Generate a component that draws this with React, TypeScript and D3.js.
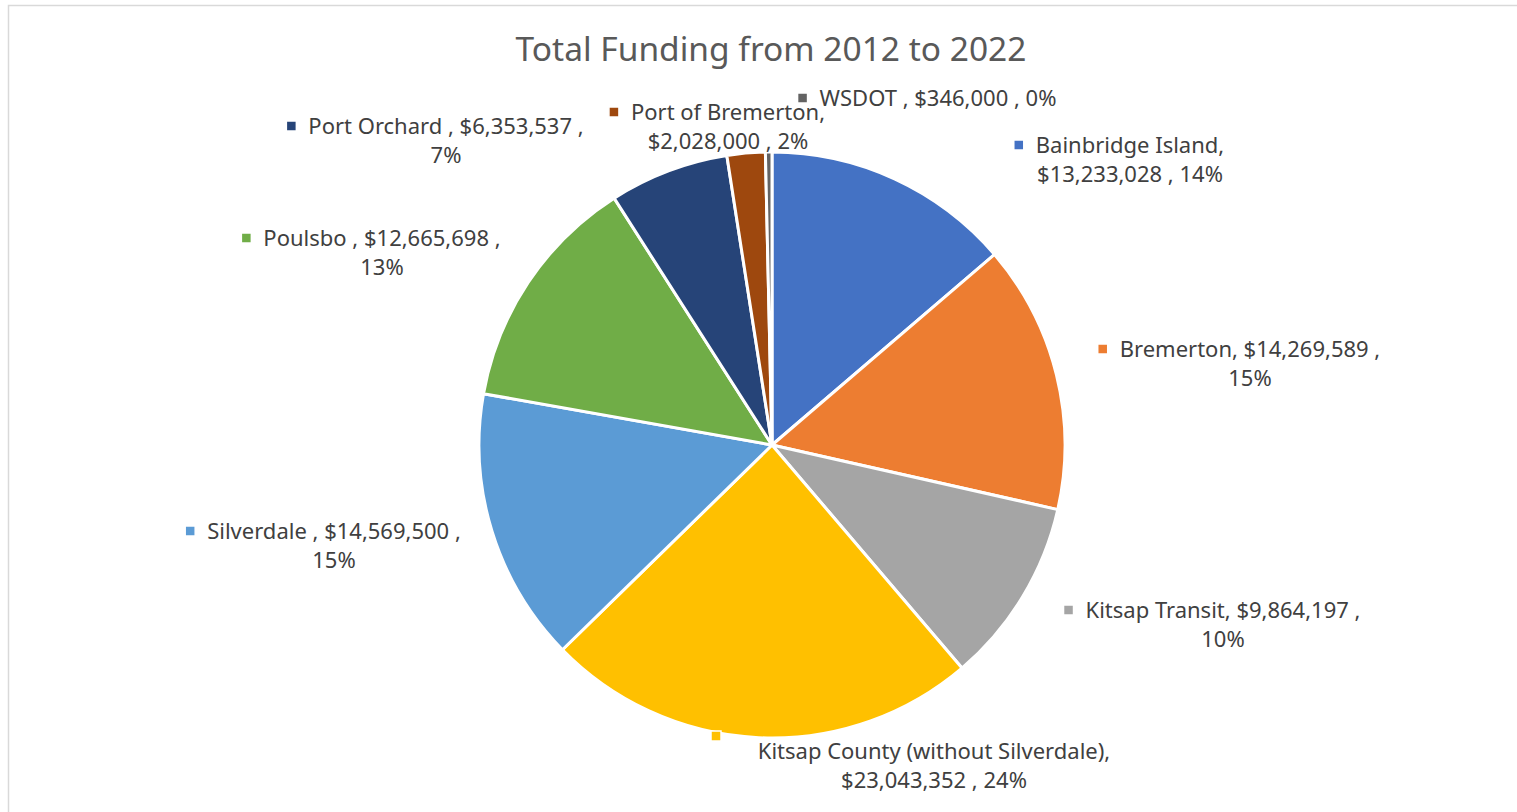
import * as d3 from "d3";
import { useEffect, useRef } from "react";

// data
const categories = [
  "Bainbridge Island",
  "Bremerton",
  "Kitsap Transit",
  "Kitsap County (without Silverdale)",
  "Silverdale ",
  "Poulsbo ",
  "Port Orchard ",
  "Port of Bremerton",
  "WSDOT ",
];
const funding = [
  13233028, 14269589, 9864197, 23043352, 14569500, 12665698, 6353537, 2028000,
  346000,
];
const colors = [
  "#4472C4",
  "#ED7D31",
  "#A5A5A5",
  "#FFC000",
  "#5B9BD5",
  "#70AD47",
  "#264478",
  "#9E480E",
  "#636363",
];

const title = "Total Funding from 2012 to 2022";

// label placement, offsets from the pie centre (line 1 middle)
const labelLayout = [
  { dx: 358, dy: -300, wrap: "name" },
  { dx: 478, dy: -96, wrap: "value" },
  { dx: 451, dy: 165, wrap: "value" },
  { dx: 162, dy: 306, wrap: "name", marker: [-56, 291] },
  { dx: -438, dy: 86, wrap: "value" },
  { dx: -390, dy: -207, wrap: "value" },
  { dx: -326, dy: -319, wrap: "value" },
  { dx: -44, dy: -333, wrap: "name" },
  { dx: 166, dy: -347, wrap: "none" },
];

const W = 1517;
const H = 812;
const cx = 772;
const cy = 445;
const radius = 293;
const font = "'Noto Sans', Roboto, sans-serif";
const lineH = 29;

const App = () => {
  const svgRef = useRef<SVGSVGElement>(null);

  useEffect(() => {
    const svg = d3.select(svgRef.current);
    svg.selectAll("*").remove();

    svg
      .append("rect")
      .attr("x", 8.5)
      .attr("y", 5.5)
      .attr("width", W + 100)
      .attr("height", H + 100)
      .attr("fill", "#fff")
      .attr("stroke", "#d9d9d9")
      .attr("stroke-width", 1.5);

    svg
      .append("text")
      .attr("x", cx - 1)
      .attr("y", 61)
      .attr("text-anchor", "middle")
      .attr("font-family", font)
      .attr("font-size", 33.5)
      .attr("fill", "#595959")
      .text(title);

    const total = d3.sum(funding);
    const money = d3.format("$,");
    const pct = d3.format(".0%");

    const pie = d3
      .pie<number>()
      .sort(null)
      .value((d) => d);
    const arcs = pie(funding);
    const arc = d3
      .arc<d3.PieArcDatum<number>>()
      .innerRadius(0)
      .outerRadius(radius);

    const chart = svg
      .append("g")
      .attr("transform", `translate(${cx},${cy})`);

    chart
      .selectAll("path")
      .data(arcs)
      .join("path")
      .attr("d", arc)
      .attr("fill", (_, i) => colors[i])
      .attr("stroke", "#fff")
      .attr("stroke-width", 3)
      .attr("stroke-linejoin", "round");

    const labels = chart.append("g");
    categories.forEach((name, i) => {
      const lay = labelLayout[i];
      const v = money(funding[i]);
      const p = pct(funding[i] / total);
      let lines: string[];
      if (lay.wrap === "name") lines = [`${name},`, `${v} , ${p}`];
      else if (lay.wrap === "value") lines = [`${name}, ${v} ,`, p];
      else lines = [`${name}, ${v} , ${p}`];

      const texts = lines.map((ln, j) =>
        labels
          .append("text")
          .attr("x", lay.dx)
          .attr("y", lay.dy - 1 + j * lineH)
          .attr("text-anchor", "middle")
          .attr("dominant-baseline", "central")
          .attr("font-family", font)
          .attr("font-size", 22)
          .attr("fill", "#404040")
          .text(ln)
      );
      const w1 = (texts[0].node() as SVGTextElement).getComputedTextLength();
      const mx = lay.marker ? lay.marker[0] : lay.dx - w1 / 2 - 17;
      const my = lay.marker ? lay.marker[1] : lay.dy;
      labels
        .append("rect")
        .attr("x", mx - 5)
        .attr("y", my - 5)
        .attr("width", 10)
        .attr("height", 10)
        .attr("fill", colors[i])
        .attr("stroke", "#fff")
        .attr("stroke-width", 1.5);
    });
  }, []);

  return (
    <svg
      ref={svgRef}
      width={W}
      height={H}
      style={{ position: "absolute", left: 0, top: 0 }}
    />
  );
};

export default App;
